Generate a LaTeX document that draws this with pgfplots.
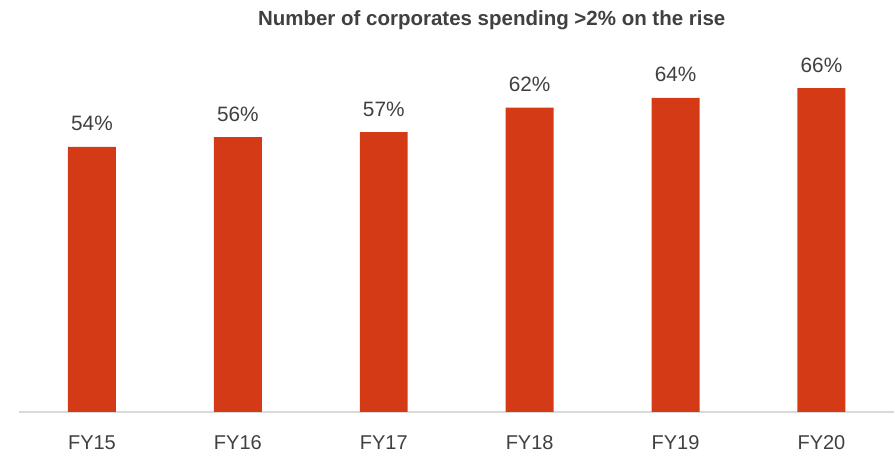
\documentclass[border=0pt]{standalone}
\usepackage{pgfplots}
\pgfplotsset{compat=1.18}
\usepackage{fontspec}
\setmainfont{Liberation Sans}
\definecolor{barred}{HTML}{D53A17}
\definecolor{txt}{HTML}{404040}
\definecolor{baseln}{HTML}{D9D9D9}
\begin{document}
\begin{tikzpicture}
\begin{axis}[
  name=ax,
  scale only axis,
  width=876pt, height=373.2pt,
  xmin=-0.5, xmax=5.5,
  ymin=0, ymax=76,
  axis x line*=bottom,
  axis y line=none,
  x axis line style={draw=baseln, line width=1.2pt},
  xtick={0,1,2,3,4,5},
  xticklabels={FY15,FY16,FY17,FY18,FY19,FY20},
  major tick length=0pt,
  xticklabel style={anchor=base, yshift=-38pt, font=\fontsize{20}{24}\selectfont, text=txt},
  ybar, bar width=48pt,
  nodes near coords={\pgfmathprintnumber{\pgfplotspointmeta}\%},
  nodes near coords style={anchor=base, yshift=16pt, font=\fontsize{20.8}{24}\selectfont, text=txt},
  /pgf/number format/assume math mode=true,
  clip=false,
]
\addplot[fill=barred, draw=none] coordinates {(0,54) (1,56) (2,57) (3,62) (4,64) (5,66)};
\node[anchor=base, font=\bfseries\fontsize{20.5}{24}\selectfont, text=txt] at ([yshift=13pt]rel axis cs:0.54,1) {Number of corporates spending >2\% on the rise};
\end{axis}
\path ([xshift=-19pt,yshift=-45pt]ax.south west) rectangle ([yshift=39pt]ax.north east);
\end{tikzpicture}
\end{document}
